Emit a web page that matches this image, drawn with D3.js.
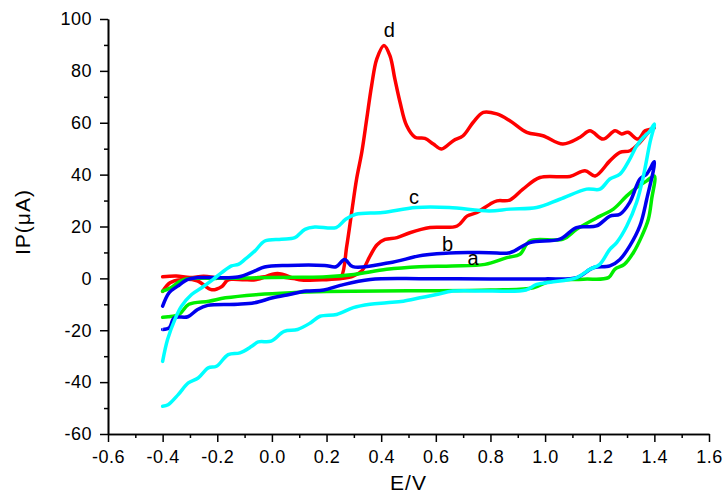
<!DOCTYPE html>
<html>
<head>
<meta charset="utf-8">
<script src="https://cdn.jsdelivr.net/npm/d3@7"></script>
<style>
  body { margin: 0; background: #fff; }
  svg { display: block; font-family: "Liberation Sans", Arial, sans-serif; }
</style>
</head>
<body>
<div id="vis"></div>
<script>
// potential (V) and current (uA), forward scan then reverse scan
let curveA = [[-0.4,-4.9],[-0.37,-3.6],[-0.335,-1],[-0.31,-0.1],[-0.2,0],[-0.1,0.1],[0.0,0.3],[0.1,0.4],[0.2,0.6],
  [0.3,1.5],[0.42,3.5],[0.54,4.5],[0.66,4.8],[0.78,5.4],[0.86,8],[0.908,9.3],[0.944,14.4],[1.066,15.1],[1.115,18.9],
  [1.201,24],[1.25,26.7],[1.299,31.8],[1.335,35],[1.372,37.6],[1.4,39.5],
  [1.39,30.5],[1.378,22.8],[1.354,16.3],[1.323,9.9],[1.29,5.4],[1.255,3.5],[1.232,0.3],[1.14,-0.3],[1.02,-1],
  [0.957,-3.6],[0.8,-4.5],[0.5,-4.8],[0.2,-5.1],[0.07,-5.5],[-0.05,-6.2],[-0.17,-7.5],[-0.23,-8.8],[-0.304,-10],
  [-0.34,-13.9],[-0.38,-14.8],[-0.4,-15]]

let curveB = [[-0.4,-10.7],[-0.376,-5.5],[-0.345,-3],[-0.308,-0.4],[-0.272,0.3],[-0.125,0.5],[-0.064,2.8],[-0.027,4.4],
  [0.058,5],[0.193,5],[0.235,4.5],[0.266,7.3],[0.296,4.5],[0.43,6],[0.552,8.9],[0.674,9.9],[0.796,9.9],[0.871,9.9],
  [0.944,13.8],[1.054,15.1],[1.115,19.6],[1.188,20.2],[1.237,24],[1.274,24.7],[1.31,29.3],[1.347,38.3],[1.372,40.2],[1.4,45],
  [1.372,30.5],[1.347,20.2],[1.31,12.5],[1.274,7.3],[1.237,4.8],[1.176,4.1],[1.116,0.3],[1.0,-0.2],[0.8,-0.2],
  [0.55,-0.1],[0.36,-0.4],[0.25,-2.7],[0.19,-4.5],[0.125,-4.9],[0.064,-6.2],[0.003,-7.5],[-0.064,-9.4],[-0.125,-10],
  [-0.235,-10.4],[-0.272,-12],[-0.308,-14.8],[-0.357,-15.2],[-0.376,-19.1],[-0.4,-19.7]]

let curveC = [[-0.4,-32],[-0.382,-23.6],[-0.355,-15.8],[-0.331,-10.7],[-0.294,-6.2],[-0.257,-3.6],[-0.215,-0.4],
  [-0.184,2.2],[-0.148,4.8],[-0.123,5.4],[-0.099,7.3],[-0.062,10.6],[-0.026,14.4],[0.035,15.1],[0.084,15.7],[0.121,18.9],
  [0.157,19.8],[0.235,19.6],[0.27,22.8],[0.307,24.7],[0.405,25.4],[0.527,27.3],[0.649,27.3],[0.795,26],[0.871,26.7],
  [0.969,27.3],[1.054,30.5],[1.152,34.4],[1.201,34.4],[1.237,38.3],[1.274,40.2],[1.31,46],[1.335,51.1],[1.36,54.4],
  [1.384,56.9],[1.4,59.5],
  [1.384,52.4],[1.36,39.5],[1.335,29.3],[1.299,20.2],[1.262,13.8],[1.237,11.2],[1.2,5.4],[1.164,3.5],[1.116,0.3],
  [1.02,-1.5],[0.969,-2.3],[0.93,-4.5],[0.8,-4.9],[0.663,-4.9],[0.603,-6.2],[0.542,-7.5],[0.481,-8.8],[0.42,-9.4],
  [0.359,-10],[0.298,-11.3],[0.237,-13.9],[0.176,-14.6],[0.142,-17.1],[0.094,-19.7],[0.045,-20.4],[-0.003,-24.2],
  [-0.05,-24.5],[-0.074,-26.2],[-0.117,-28.7],[-0.16,-29.4],[-0.203,-33.9],[-0.233,-34.5],[-0.27,-38.4],[-0.306,-40.3],
  [-0.343,-44.8],[-0.38,-48.7],[-0.4,-49.3]]

let curveD = [[-0.4,0.6],[-0.35,0.9],[-0.3,0.3],[-0.25,0.8],[-0.2,0.2],[-0.15,-0.3],[-0.1,-0.5],[-0.05,0.3],[0.0,0.8],
  [0.05,0.3],[0.1,-0.3],[0.15,-0.3],[0.2,0],[0.24,0.5],[0.255,1],[0.274,12.5],[0.292,25.5],[0.31,38.3],[0.329,48.6],
  [0.347,61.4],[0.365,74.3],[0.384,84.6],[0.41,89.8],[0.432,85.9],[0.45,76.9],[0.469,67.9],[0.493,58.9],[0.524,54.4],
  [0.56,54],[0.591,51.8],[0.621,49.9],[0.664,53.1],[0.7,55],[0.737,60.2],[0.774,64],[0.823,63.4],[0.871,60.8],
  [0.933,56.3],[0.992,55],[1.065,51.8],[1.128,54.4],[1.164,56.9],[1.212,53.7],[1.256,56.9],[1.28,55.7],[1.303,56.3],
  [1.34,53.7],[1.366,56.9],[1.39,57.6],[1.4,58],
  [1.384,56.9],[1.347,52.4],[1.311,49.2],[1.274,48.6],[1.237,45.3],[1.183,39.5],[1.146,41.5],[1.091,39.3],[0.981,38.9],
  [0.919,34.4],[0.871,30.2],[0.824,29.9],[0.798,28.6],[0.751,25.4],[0.714,24],[0.678,20.2],[0.579,19.6],[0.505,17.6],
  [0.458,15.7],[0.414,15],[0.385,13],[0.359,8.6],[0.33,3],[0.297,0.9],[0.26,0],[0.2,-0.5],[0.1,-0.5],[0.02,1.9],
  [-0.06,-0.5],[-0.16,-0.6],[-0.183,-3.1],[-0.22,-4.4],[-0.274,-0.9],[-0.336,-0.5],[-0.373,-1.7],[-0.4,-5]]

let curveNames = ['a','b','c','d']
let curveColors = ['#00ee00','#0000ee','#00ffff','#ff0000']
let labelPos = [[0.736,5],[0.643,10.5],[0.52,28.6],[0.43,93]]

let xTicks = [-0.6,-0.4,-0.2,0.0,0.2,0.4,0.6,0.8,1.0,1.2,1.4,1.6]
let xMinor = [-0.5,-0.3,-0.1,0.1,0.3,0.5,0.7,0.9,1.1,1.3,1.5]
let yTicks = [-60,-40,-20,0,20,40,60,80,100]
let yMinor = [-50,-30,-10,10,30,50,70,90]

let margin = {top: 19, right: 14, bottom: 62, left: 108},
    width = 723 - margin.left - margin.right,
    height = 496 - margin.top - margin.bottom;

let svg = d3.select("#vis")
  .append("svg")
  .attr("width", 723)
  .attr("height", 496)
  .append("g")
  .attr("transform", `translate(${margin.left},${margin.top})`);

let xScale = d3.scaleLinear().domain([-0.6, 1.6]).range([0, width])
let yScale = d3.scaleLinear().domain([-60, 100]).range([height, 0])

let line = d3.line()
  .x(d => xScale(d[0]))
  .y(d => yScale(d[1]))
  .curve(d3.curveCatmullRom.alpha(0.5))

// draw order: red under everything, cyan on top
let curves = [curveD, curveA, curveB, curveC]
let colors = [curveColors[3], curveColors[0], curveColors[1], curveColors[2]]

svg.selectAll('.cv')
  .data(curves)
  .join('path')
  .attr('class', 'cv')
  .attr('d', line)
  .attr('fill', 'none')
  .attr('stroke', (d,i) => colors[i])
  .attr('stroke-width', 3.5)
  .attr('stroke-linejoin', 'round')
  .attr('stroke-linecap', 'round')

svg.selectAll('.curveLabel')
  .data(labelPos)
  .join('text')
  .attr('class', 'curveLabel')
  .attr('x', d => xScale(d[0]))
  .attr('y', d => yScale(d[1]))
  .attr('text-anchor', 'middle')
  .attr('font-size', '20px')
  .attr('fill', '#000')
  .text((d,i) => curveNames[i])

// plain hyphen instead of d3's unicode minus
let fmtX = d => d3.format('.1f')(d).replace('−', '-')
let fmtY = d => d3.format('d')(d).replace('−', '-')

// axes
svg.append('g')
  .attr('transform', `translate(0,${height})`)
  .call(d3.axisBottom(xScale).tickValues(xTicks).tickSize(8).tickSizeOuter(0).tickPadding(8).tickFormat(fmtX))

svg.append('g')
  .attr('transform', `translate(0,${height})`)
  .call(d3.axisBottom(xScale).tickValues(xMinor).tickSize(4).tickSizeOuter(0).tickFormat(''))

svg.append('g')
  .call(d3.axisLeft(yScale).tickValues(yTicks).tickSize(8).tickSizeOuter(0).tickPadding(8).tickFormat(fmtY))

svg.append('g')
  .call(d3.axisLeft(yScale).tickValues(yMinor).tickSize(4).tickSizeOuter(0).tickFormat(''))

svg.selectAll('.domain').attr('stroke', '#000').attr('stroke-width', 1.6)
svg.selectAll('.tick line').attr('stroke', '#000').attr('stroke-width', 1.5)
svg.selectAll('.tick text')
  .attr('font-size', '18px')
  .attr('font-family', '"Liberation Sans", Arial, sans-serif')
  .attr('letter-spacing', '0.5px')
  .attr('fill', '#000')

svg.append('text')
  .attr('x', width / 2)
  .attr('y', 490 - margin.top)
  .attr('text-anchor', 'middle')
  .attr('font-size', '21px')
  .attr('letter-spacing', '1px')
  .text('E/V')

svg.append('text')
  .attr('transform', `translate(${30 - margin.left},${222 - margin.top}) rotate(-90)`)
  .attr('text-anchor', 'middle')
  .attr('font-size', '21px')
  .attr('letter-spacing', '1px')
  .text('IP(μA)')
</script>
</body>
</html>
